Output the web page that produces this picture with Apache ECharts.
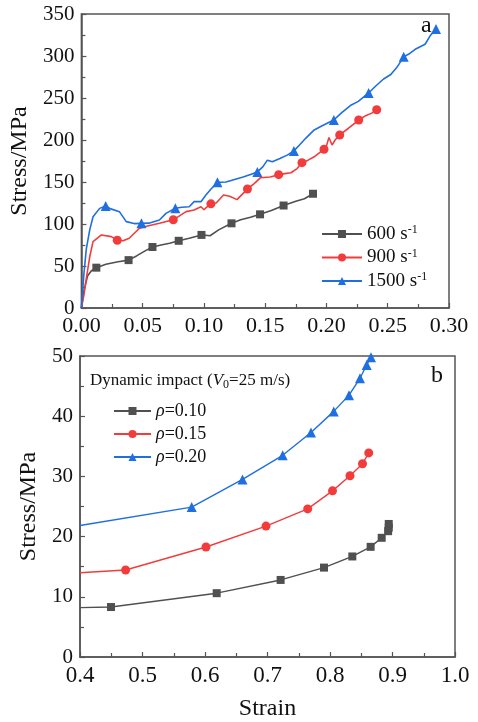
<!DOCTYPE html>
<html>
<head>
    <meta charset="utf-8">
    <script type="text/javascript" src="https://cdn.jsdelivr.net/npm/echarts@6/dist/echarts.min.js"></script>
    <title></title>
    <style>
        html, body { margin: 0; padding: 0; background: #fff; }
        #main { width: 478px; height: 722px; }
    </style>
</head>
<body>
<div id="main"></div>
</body>
</html>

<script type="text/javascript">
    // ---- panel a: stress-strain at three strain rates ----
    var rateNames = ['600 s-1', '900 s-1', '1500 s-1'];

    // curve points (no marker)
    var curve600 = [[0, 0], [0.002, 20], [0.005, 38], [0.008, 44], [0.02, 52], [0.03, 55],
        [0.045, 62], [0.052, 68], [0.065, 75], [0.072, 77], [0.088, 83], [0.105, 86],
        [0.112, 93], [0.13, 105], [0.138, 108], [0.155, 116], [0.175, 127], [0.182, 130]];
    var marks600 = [[0.0122, 48], [0.0385, 57], [0.058, 72.6], [0.0794, 80], [0.098, 87],
        [0.1225, 100.8], [0.1458, 111.5], [0.165, 122], [0.189, 136]];

    var curve900 = [[0, 0], [0.002, 15], [0.004, 35], [0.0068, 61], [0.0095, 79], [0.0163, 87],
        [0.0244, 85], [0.034, 80], [0.039, 83], [0.0474, 95], [0.054, 97.6], [0.0637, 100.8],
        [0.0854, 114.7], [0.092, 116.7], [0.0976, 120.6], [0.1, 117], [0.103, 121], [0.11, 125],
        [0.116, 134.5], [0.121, 133], [0.127, 129], [0.131, 135], [0.141, 148], [0.146, 155],
        [0.154, 156], [0.166, 160], [0.171, 161], [0.176, 166], [0.185, 176], [0.19, 180],
        [0.2, 193], [0.202, 203], [0.2046, 194], [0.207, 200], [0.218, 214], [0.232, 229], [0.237, 232]];
    var marks900 = [[0.0293, 80.6], [0.075, 105], [0.1057, 124], [0.1355, 141.7], [0.161, 158.7],
        [0.18, 173], [0.198, 189], [0.2108, 206], [0.2263, 223.8], [0.241, 236]];

    var curve1500 = [[0, 0], [0.002, 40], [0.004, 70], [0.0068, 93], [0.0095, 108.7], [0.0149, 118.6],
        [0.024, 118], [0.031, 114.7], [0.0366, 102.8], [0.043, 100.5], [0.055, 101], [0.0637, 104.8],
        [0.069, 112.7], [0.082, 120], [0.088, 120.6], [0.092, 126.6], [0.0976, 126.6], [0.1016, 134.5],
        [0.106, 142], [0.118, 150], [0.125, 153], [0.132, 156], [0.138, 159], [0.148, 168],
        [0.1518, 176], [0.1558, 174], [0.162, 178], [0.168, 182], [0.178, 194], [0.183, 202],
        [0.19, 212], [0.1965, 217], [0.2006, 220], [0.212, 232], [0.2195, 241], [0.226, 246],
        [0.24, 264], [0.2466, 272.6], [0.2525, 278], [0.2575, 286.5], [0.268, 303], [0.2724, 308],
        [0.2805, 314], [0.2846, 324]];
    var marks1500 = [[0.0198, 121.4], [0.049, 100.8], [0.0767, 118.7], [0.111, 149.6], [0.1436, 162],
        [0.1734, 187], [0.206, 223.8], [0.2344, 256], [0.263, 299], [0.2894, 332]];

    // ---- panel b: dynamic impact at three densities ----
    var rhoNames = ['0.10', '0.15', '0.20'];
    var start10 = [[0.4, 8.2]];
    var marks10 = [[0.4496, 8.3], [0.6187, 10.6], [0.721, 12.8], [0.7904, 14.85], [0.8357, 16.7],
        [0.865, 18.3], [0.8827, 19.8], [0.893, 20.9], [0.894, 21.5], [0.894, 22.1]];
    var start15 = [[0.4, 14.0]];
    var marks15 = [[0.473, 14.45], [0.6016, 18.27], [0.6976, 21.75], [0.7643, 24.6], [0.804, 27.6],
        [0.832, 30.1], [0.852, 32.1], [0.862, 33.9]];
    var start20 = [[0.4, 21.85]];
    var marks20 = [[0.5787, 24.9], [0.66, 29.5], [0.7243, 33.5], [0.7696, 37.3], [0.806, 40.8],
        [0.8304, 43.5], [0.848, 46.3], [0.8587, 48.5], [0.8656, 49.8]];

    var serif = 'Liberation Serif';
    var grey = '#505050', red = '#f23c3c', blue = '#1f6fe0';
    var axisColor = '#555';

    // merge plain curve points and marked points, sorted by strain
    function merge(curve, marks) {
        var pts = [];
        curve.forEach(function (p) { pts.push({value: p, symbol: 'none'}); });
        marks.forEach(function (p) { pts.push({value: p}); });
        pts.sort(function (a, b) { return a.value[0] - b.value[0]; });
        return pts;
    }

    function makeSeries(name, idx, color, symbol, size, curve, marks, width) {
        return {
            name: name,
            type: 'line',
            xAxisIndex: idx,
            yAxisIndex: idx,
            data: merge(curve, marks),
            symbol: symbol,
            symbolSize: size,
            showSymbol: true,
            color: color,
            lineStyle: {color: color, width: width},
            itemStyle: {color: color},
            emphasis: {disabled: true},
            z: 3
        };
    }

    function valueAxis(idx, min, max, interval, digits, fontSize, name, gap) {
        return {
            type: 'value',
            gridIndex: idx,
            min: min,
            max: max,
            interval: interval,
            name: name,
            nameLocation: 'middle',
            nameGap: gap,
            nameTextStyle: {fontFamily: serif, fontSize: 24, color: '#111'},
            axisLine: {show: true, onZero: false, lineStyle: {color: axisColor, width: 1.5}},
            axisTick: {show: true, inside: true, length: 5, lineStyle: {color: axisColor, width: 1.2}},
            minorTick: {show: true, splitNumber: 2, length: 4, lineStyle: {color: axisColor, width: 1.2}},
            splitLine: {show: false},
            axisLabel: {
                fontFamily: serif, fontSize: fontSize, color: '#111', margin: 7,
                formatter: function (v) { return digits ? v.toFixed(digits) : String(Math.round(v)); }
            }
        };
    }

    var myChart = echarts.init(document.getElementById('main'), null, {renderer: 'canvas'});

    var option = {
        animation: false,
        backgroundColor: '#fff',
        grid: [
            {left: 80, top: 14, width: 369, height: 294, show: true, borderColor: axisColor, borderWidth: 1.5},
            {left: 80, top: 356, width: 375, height: 302, show: true, borderColor: axisColor, borderWidth: 1.5}
        ],
        xAxis: [
            valueAxis(0, 0, 0.3, 0.05, 2, 22, '', 0),
            valueAxis(1, 0.4, 1.0, 0.1, 1, 23, 'Strain', 40)
        ],
        yAxis: [
            valueAxis(0, 0, 350, 50, 0, 21, 'Stress/MPa', 42),
            valueAxis(1, 0, 50, 10, 0, 21, 'Stress/MPa', 34)
        ],
        legend: [
            {
                data: rateNames,
                orient: 'vertical',
                left: 316,
                top: 219,
                itemWidth: 40,
                itemHeight: 10,
                itemGap: 4,
                textStyle: {
                    fontFamily: serif, fontSize: 19, color: '#111',
                    rich: {
                        t: {fontFamily: serif, fontSize: 19, lineHeight: 20, color: '#111'},
                        s: {fontFamily: serif, fontSize: 12, lineHeight: 12, verticalAlign: 'top', color: '#111'}
                    }
                },
                formatter: function (name) {
                    return '{t|' + name.replace(' s-1', ' s') + '}{s|-1}';
                }
            },
            {
                data: rhoNames.map(function (r) { return 'ρ=' + r; }),
                orient: 'vertical',
                left: 108,
                top: 397,
                itemWidth: 37,
                itemHeight: 10,
                itemGap: 5,
                textStyle: {
                    fontFamily: serif, fontSize: 18, color: '#111',
                    rich: {
                        i: {fontFamily: serif, fontSize: 18, fontStyle: 'italic', color: '#111'},
                        n: {fontFamily: serif, fontSize: 18, color: '#111'}
                    }
                },
                formatter: function (name) {
                    return '{i|ρ}{n|' + name.slice(1) + '}';
                }
            }
        ],
        title: {
            text: '{n|Dynamic impact (}{i|V}{sub|0}{n|=25 m/s)}',
            left: 85,
            top: 366,
            textStyle: {
                fontWeight: 'normal',
                rich: {
                    n: {fontFamily: serif, fontSize: 17, fontWeight: 'normal', color: '#111', lineHeight: 20},
                    i: {fontFamily: serif, fontSize: 17, fontWeight: 'normal', fontStyle: 'italic', color: '#111', lineHeight: 20},
                    sub: {fontFamily: serif, fontSize: 12, fontWeight: 'normal', color: '#111', lineHeight: 12, verticalAlign: 'bottom'}
                }
            }
        },
        graphic: [
            {type: 'text', left: 421, top: 14, style: {text: 'a', fontFamily: serif, fontSize: 24, fill: '#111'}},
            {type: 'text', left: 431, top: 364, style: {text: 'b', fontFamily: serif, fontSize: 24, fill: '#111'}}
        ],
        series: [
            makeSeries(rateNames[0], 0, grey, 'rect', 8, curve600, marks600, 1.6),
            makeSeries(rateNames[1], 0, red, 'circle', 9, curve900, marks900, 1.6),
            makeSeries(rateNames[2], 0, blue, 'triangle', 10, curve1500, marks1500, 1.6),
            makeSeries('ρ=' + rhoNames[0], 1, grey, 'rect', 8, start10, marks10, 1.4),
            makeSeries('ρ=' + rhoNames[1], 1, red, 'circle', 9, start15, marks15, 1.4),
            makeSeries('ρ=' + rhoNames[2], 1, blue, 'triangle', 10, start20, marks20, 1.4)
        ]
    };

    myChart.setOption(option);
</script>
